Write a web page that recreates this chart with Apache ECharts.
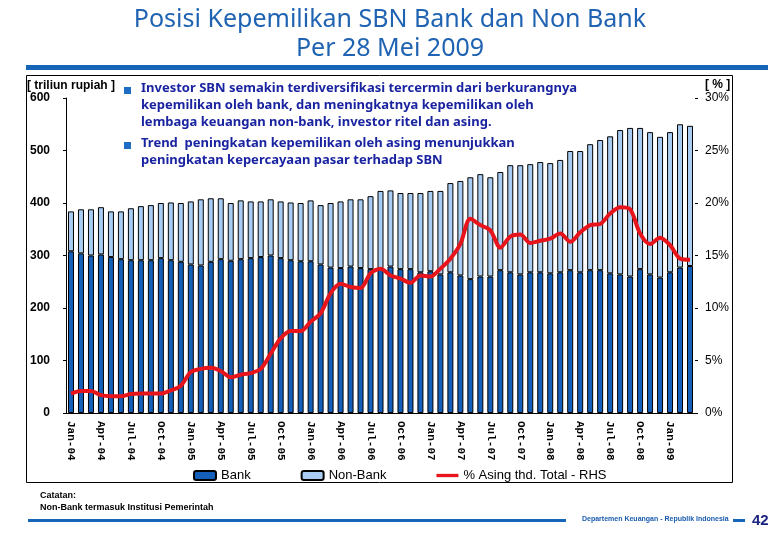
<!DOCTYPE html>
<html>
<head>
<meta charset="utf-8">
<script src="https://cdn.jsdelivr.net/npm/echarts@6/dist/echarts.min.js"></script>
<style>
  html, body { margin: 0; padding: 0; background: #fff; }
  #main { width: 780px; height: 540px; }
</style>
</head>
<body>
<div id="main"></div>
<script>
// bulan (Jan-04 .. Mar-09)
var months = [
  'Jan-04','Feb-04','Mar-04','Apr-04','May-04','Jun-04','Jul-04','Aug-04','Sep-04','Oct-04','Nov-04','Dec-04',
  'Jan-05','Feb-05','Mar-05','Apr-05','May-05','Jun-05','Jul-05','Aug-05','Sep-05','Oct-05','Nov-05','Dec-05',
  'Jan-06','Feb-06','Mar-06','Apr-06','May-06','Jun-06','Jul-06','Aug-06','Sep-06','Oct-06','Nov-06','Dec-06',
  'Jan-07','Feb-07','Mar-07','Apr-07','May-07','Jun-07','Jul-07','Aug-07','Sep-07','Oct-07','Nov-07','Dec-07',
  'Jan-08','Feb-08','Mar-08','Apr-08','May-08','Jun-08','Jul-08','Aug-08','Sep-08','Oct-08','Nov-08','Dec-08',
  'Jan-09','Feb-09','Mar-09'
];
// kepemilikan bank (triliun rupiah)
var bank = [
  308,304,300,302,297,293,291,291,291,295,291,288,
  283,281,288,293,290,293,295,297,300,295,291,289,
  289,283,277,276,279,276,274,276,279,274,274,268,
  270,264,268,262,255,260,260,272,268,264,268,268,
  266,268,272,268,272,272,266,264,260,274,264,258,
  268,277,280
];
// kepemilikan non-bank (triliun rupiah)
var nonBank = [
  76,84,88,90,87,91,99,103,105,105,110,112,
  120,126,121,116,110,112,108,106,107,108,110,111,
  116,113,123,127,128,131,139,147,145,145,145,151,
  153,159,170,180,194,195,189,187,204,208,206,210,
  210,214,227,231,240,248,261,275,283,269,271,268,
  267,273,267
];
// % asing thd total (RHS)
var asing = [
  1.85,2.1,2.1,1.7,1.6,1.6,1.8,1.85,1.85,1.85,2.15,2.6,
  3.9,4.2,4.3,4.0,3.4,3.65,3.8,4.2,5.65,7.1,7.8,7.8,
  8.7,9.5,11.4,12.3,12.0,11.9,13.3,13.75,13.1,12.8,12.4,13.1,
  13.0,13.75,14.7,16.1,18.5,17.9,17.4,15.75,16.8,17.0,16.2,16.4,
  16.6,17.1,16.3,17.2,17.9,18.0,19.0,19.6,19.4,17.1,16.1,16.7,
  16.0,14.7,14.6
];

var myChart = echarts.init(document.getElementById('main'));

var noteColor = '#1a24a0';
var bulletColor = '#1e6cc4';
var noteFont = { fontFamily: 'Noto Sans', fontSize: 13, fontWeight: 'bold', fill: noteColor };

var option = {
    animation: false,
    backgroundColor: '#fff',
    title: {
        text: 'Posisi Kepemilikan SBN Bank dan Non Bank\nPer 28 Mei 2009',
        left: 'center',
        top: 0,
        textStyle: {
            fontFamily: 'Noto Sans',
            fontSize: 25,
            fontWeight: 'normal',
            lineHeight: 29,
            color: '#1f63b2'
        }
    },
    legend: {
        left: 193,
        top: 469,
        padding: 0,
        itemWidth: 22,
        itemHeight: 9,
        itemGap: 50,
        textStyle: { fontFamily: 'Liberation Sans', fontSize: 13, color: '#000' },
        data: [
            { name: 'Bank' },
            { name: 'Non-Bank' },
            { name: '% Asing thd. Total - RHS', icon: 'path://M0,0 H20 V3 H0 Z' }
        ]
    },
    grid: { left: 66, right: 85, top: 98, bottom: 127 },
    xAxis: {
        type: 'category',
        data: months,
        axisLine: { lineStyle: { color: '#000', width: 1 } },
        axisTick: { interval: 2, length: 4, lineStyle: { color: '#000' } },
        axisLabel: {
            interval: 2,
            rotate: -90,
            margin: 8,
            fontFamily: 'Liberation Mono',
            fontWeight: 'bold',
            fontSize: 11,
            color: '#000'
        }
    },
    yAxis: [
        {
            type: 'value',
            min: 0, max: 600, interval: 100,
            axisLine: { show: true, lineStyle: { color: '#000' } },
            axisTick: { show: true, length: 3, lineStyle: { color: '#000' } },
            splitLine: { show: false },
            axisLabel: {
                margin: 16,
                fontFamily: 'Liberation Sans',
                fontWeight: 'bold',
                fontSize: 12,
                color: '#000'
            }
        },
        {
            type: 'value',
            min: 0, max: 30, interval: 5,
            position: 'right',
            axisLine: { show: false },
            axisTick: { show: true, length: 3, lineStyle: { color: '#000' } },
            splitLine: { show: false },
            axisLabel: {
                margin: 10,
                formatter: '{value}%',
                fontFamily: 'Liberation Sans',
                fontSize: 12,
                color: '#000'
            }
        }
    ],
    series: [
        {
            name: 'Bank',
            type: 'bar',
            stack: 'sbn',
            barWidth: 6,
            data: bank,
            itemStyle: { color: '#145fb9', borderColor: '#000', borderWidth: 1 }
        },
        {
            name: 'Non-Bank',
            type: 'bar',
            stack: 'sbn',
            barWidth: 6,
            data: nonBank,
            itemStyle: { color: '#a8ccf2', borderColor: '#000', borderWidth: 1 }
        },
        {
            name: '% Asing thd. Total - RHS',
            type: 'line',
            yAxisIndex: 1,
            data: asing,
            symbol: 'none',
            smooth: 0.3,
            lineStyle: { color: '#e8141c', width: 4 },
            itemStyle: { color: '#e8141c' },
            z: 5
        }
    ],
    graphic: [
        // garis biru atas
        { type: 'rect', shape: { x: 26, y: 65, width: 742, height: 5 }, style: { fill: '#1565b8' } },
        // kotak grafik
        { type: 'rect', shape: { x: 26.5, y: 75.5, width: 706, height: 407 }, style: { fill: 'none', stroke: '#000', lineWidth: 1 } },
        { type: 'text', x: 27, y: 80, style: { text: '[ triliun rupiah ]', fontFamily: 'Liberation Sans', fontSize: 12, fontWeight: 'bold', fill: '#000' } },
        { type: 'text', x: 705, y: 79, style: { text: '[ % ]', fontFamily: 'Liberation Sans', fontSize: 12, fontWeight: 'bold', fill: '#000' } },
        // catatan dalam grafik
        { type: 'rect', shape: { x: 124, y: 87, width: 7, height: 7 }, style: { fill: bulletColor } },
        { type: 'text', x: 141, y: 82, style: Object.assign({ text: 'Investor SBN semakin terdiversifikasi tercermin dari berkurangnya' }, noteFont) },
        { type: 'text', x: 141, y: 99, style: Object.assign({ text: 'kepemilikan oleh bank, dan meningkatnya kepemilikan oleh' }, noteFont) },
        { type: 'text', x: 141, y: 116, style: Object.assign({ text: 'lembaga keuangan non-bank, investor ritel dan asing.' }, noteFont) },
        { type: 'rect', shape: { x: 124, y: 142, width: 7, height: 7 }, style: { fill: bulletColor } },
        { type: 'text', x: 141, y: 137, style: Object.assign({ text: 'Trend  peningkatan kepemilikan oleh asing menunjukkan' }, noteFont) },
        { type: 'text', x: 141, y: 154, style: Object.assign({ text: 'peningkatan kepercayaan pasar terhadap SBN' }, noteFont) },
        // catatan bawah
        { type: 'text', x: 40, y: 491, style: { text: 'Catatan:', fontFamily: 'Liberation Sans', fontSize: 9, fontWeight: 'bold', fill: '#000' } },
        { type: 'text', x: 40, y: 503, style: { text: 'Non-Bank termasuk Institusi Pemerintah', fontFamily: 'Liberation Sans', fontSize: 9, fontWeight: 'bold', fill: '#000' } },
        // footer
        { type: 'rect', shape: { x: 28, y: 519, width: 538, height: 3 }, style: { fill: '#1565b8' } },
        { type: 'text', x: 582, y: 516, style: { text: 'Departemen Keuangan - Republik Indonesia', fontFamily: 'Liberation Sans', fontSize: 7, fontWeight: 'bold', fill: '#1a5cb0' } },
        { type: 'rect', shape: { x: 733, y: 519, width: 12, height: 3 }, style: { fill: '#1565b8' } },
        { type: 'text', x: 752, y: 513, style: { text: '42', fontFamily: 'Liberation Sans', fontSize: 15, fontWeight: 'bold', fill: '#1a237e' } }
    ]
};

myChart.setOption(option);
</script>
</body>
</html>
